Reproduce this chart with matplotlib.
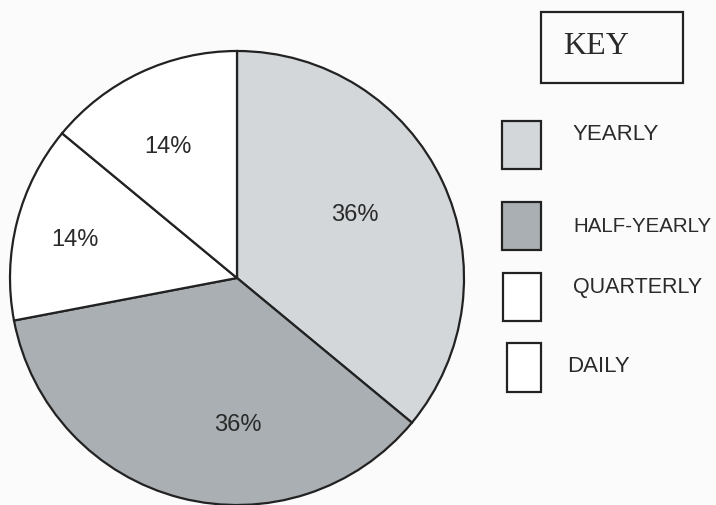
import matplotlib.pyplot as plt
from matplotlib.patches import Rectangle

labels = ["YEARLY", "HALF-YEARLY", "QUARTERLY", "DAILY"]
shares = [36, 36, 14, 14]
colors = ["#d3d7da", "#a9afb2", "#ffffff", "#ffffff"]
pct_labels = ["36%", "36%", "14%", "14%"]

W, H = 716, 505
fig = plt.figure(figsize=(W / 100, H / 100), dpi=100)
fig.patch.set_facecolor("#fbfbfb")
ax = fig.add_axes([0, 0, 1, 1])

# pie, centre and radius in pixels
cx, cy, r = 237, H - 278, 227
wedges, _ = ax.pie(shares, colors=colors, startangle=90, counterclock=False,
                   center=(cx, cy), radius=r, frame=True,
                   wedgeprops=dict(edgecolor="#222222", linewidth=1.6))
ax.set_xlim(0, W)
ax.set_ylim(0, H)
ax.set_aspect("equal")
ax.axis("off")

# percentage labels (pixel positions from the picture)
pct_pos = [(355, 215), (238, 425), (75, 240), (168, 147)]
for txt, (x, y) in zip(pct_labels, pct_pos):
    ax.text(x, H - y, txt, ha="center", va="center", fontsize=17,
            family="Liberation Sans", color="#2a2a2a")

# KEY box
ax.add_patch(Rectangle((541, H - 83), 142, 71, facecolor="none",
                       edgecolor="#222222", linewidth=1.6))
ax.text(563, H - 47, "KEY", ha="left", va="center", fontsize=23,
        family="Liberation Serif", color="#2a2a2a")

# legend squares
boxes = [(502, 121, 169), (502, 202, 250), (503, 273, 321), (507, 343, 392)]
text_pos = [(573, 134), (573, 227), (573, 287), (567, 367)]
sizes = [16, 14.8, 15.5, 16]
for lab, col, (x0, y0, y1), (tx, ty), fs in zip(labels, colors, boxes, text_pos, sizes):
    ax.add_patch(Rectangle((x0, H - y1), 541 - x0, y1 - y0, facecolor=col,
                           edgecolor="#222222", linewidth=1.6))
    ax.text(tx, H - ty, lab, ha="left", va="center", fontsize=fs,
            family="Liberation Sans", color="#2a2a2a")

fig.savefig("out.png", dpi=100, facecolor=fig.get_facecolor())
